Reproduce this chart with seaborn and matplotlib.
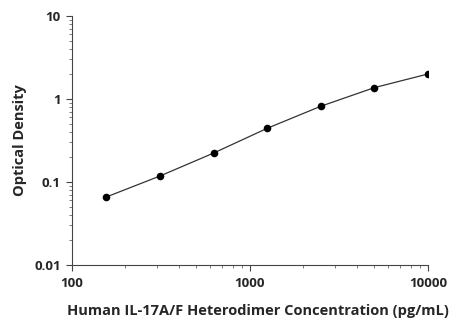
import matplotlib
matplotlib.use("Agg")
import matplotlib.pyplot as plt
import seaborn as sns
import pandas as pd
from matplotlib.ticker import LogLocator, FixedLocator, FixedFormatter, NullFormatter

concentration = [156.25, 312.5, 625, 1250, 2500, 5000, 10000]
optical_density = [0.066, 0.118, 0.223, 0.443, 0.817, 1.37, 2.0]
x_ticks = [100, 1000, 10000]
x_tick_labels = ["100", "1000", "10000"]
y_ticks = [0.01, 0.1, 1, 10]
y_tick_labels = ["0.01", "0.1", "1", "10"]

df = pd.DataFrame({"conc": concentration, "od": optical_density})

sns.set_style("ticks")
plt.rcParams["font.family"] = ["Open Sans", "DejaVu Sans"]

fig = plt.figure(figsize=(4.49, 3.18), dpi=100)
ax = fig.add_axes([0.160, 0.1667, 0.793, 0.783])

sns.lineplot(data=df, x="conc", y="od", ax=ax, color="#333333", linewidth=0.9)
sns.scatterplot(data=df, x="conc", y="od", ax=ax, color="black", s=30,
                edgecolor="black", linewidth=0, zorder=3)

ax.set_xscale("log")
ax.set_yscale("log")
ax.set_xlim(100, 10000)
ax.set_ylim(0.01, 10)

ax.xaxis.set_major_locator(FixedLocator(x_ticks))
ax.xaxis.set_major_formatter(FixedFormatter(x_tick_labels))
ax.yaxis.set_major_locator(FixedLocator(y_ticks))
ax.yaxis.set_major_formatter(FixedFormatter(y_tick_labels))
ax.xaxis.set_minor_locator(LogLocator(base=10, subs=range(2, 10)))
ax.yaxis.set_minor_locator(LogLocator(base=10, subs=range(2, 10)))
ax.xaxis.set_minor_formatter(NullFormatter())
ax.yaxis.set_minor_formatter(NullFormatter())

for s in ["top", "right"]:
    ax.spines[s].set_visible(False)
for s in ["left", "bottom"]:
    ax.spines[s].set_color("#444444")
    ax.spines[s].set_linewidth(0.8)

ax.tick_params(axis="x", which="major", length=4, width=0.8, color="#444444",
               labelsize=9.5, pad=5)
ax.tick_params(axis="y", which="major", length=4, width=0.8, color="#444444",
               labelsize=9.5, pad=4)
ax.tick_params(axis="both", which="minor", length=2, width=0.6, color="#666666")
for lab in ax.get_xticklabels() + ax.get_yticklabels():
    lab.set_fontweight("bold")

ax.set_xlabel("Human IL-17A/F Heterodimer Concentration (pg/mL)", fontsize=10.5,
              fontweight="bold", labelpad=10)
ax.xaxis.set_label_coords(0.522, -0.155)
ax.set_ylabel("Optical Density", fontsize=10.5, fontweight="bold", labelpad=5)

fig.savefig("out.png", dpi=100)
